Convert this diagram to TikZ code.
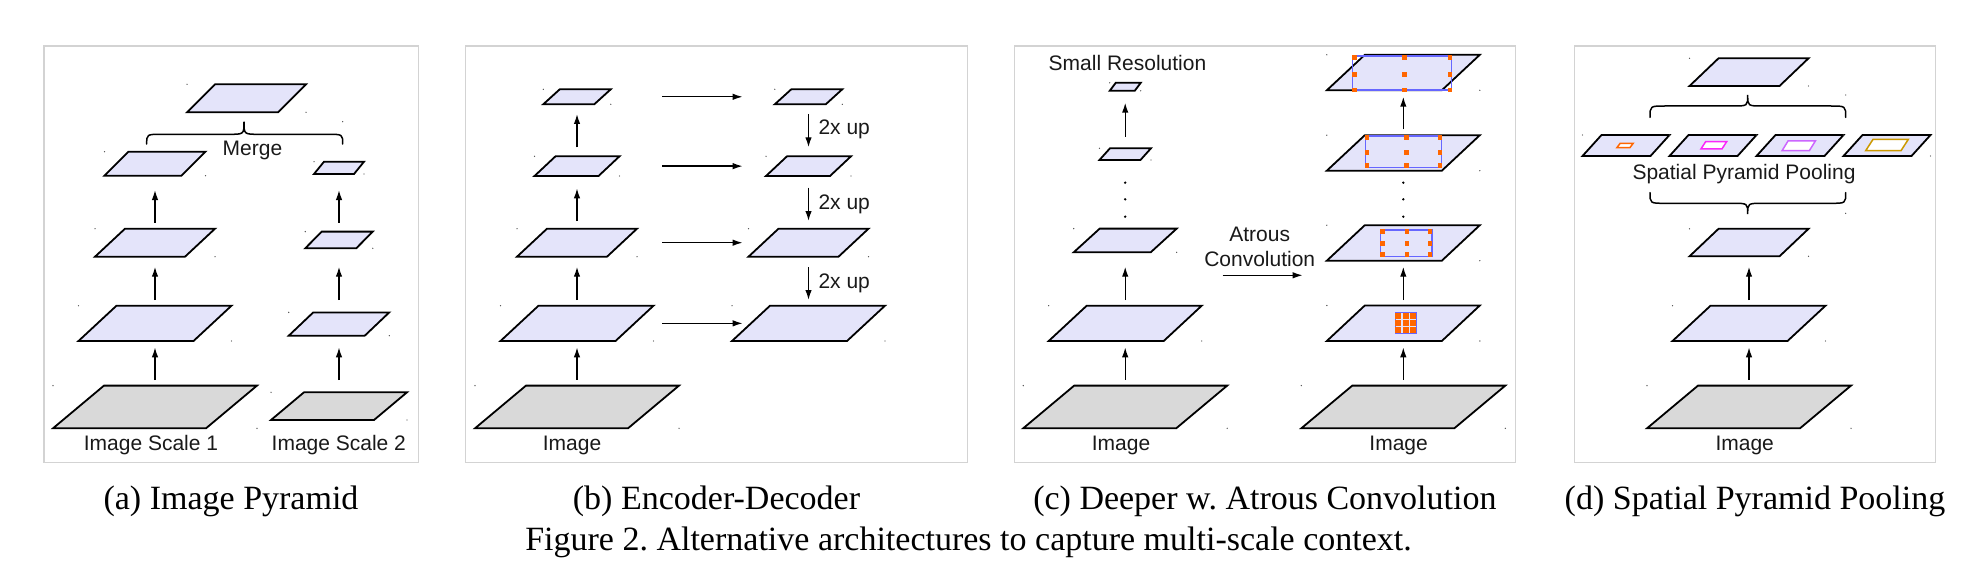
\documentclass[tikz,border=0pt]{standalone}
\usepackage{fontspec}
\setmainfont{Liberation Serif}
\newfontfamily\diagfont{Liberation Sans}
\usetikzlibrary{arrows.meta,calc}
\frenchspacing
\definecolor{lav}{RGB}{228,228,250}
\definecolor{gry}{RGB}{217,217,217}
\definecolor{framegray}{RGB}{211,211,211}
\definecolor{atblue}{RGB}{102,102,255}
\definecolor{atorange}{RGB}{255,102,0}
\definecolor{sppA}{RGB}{255,102,0}
\definecolor{sppB}{RGB}{250,40,250}
\definecolor{sppC}{RGB}{204,102,255}
\definecolor{sppD}{RGB}{204,153,0}
\tikzset{
 planeL/.style={draw=black, line width=1.8pt, fill=lav},
 planeG/.style={draw=black, line width=1.8pt, fill=gry},
 pbox/.style={rectangle, draw=none, inner sep=0pt, outer sep=0pt},
 bbdot/.style={fill=black!70},
 arr/.style={line width=1.4pt, -{Latex[length=10pt,width=6.5pt]}},
 lbl/.style={font=\diagfont\fontsize{21}{24}\selectfont, inner sep=0pt, anchor=base, text=black!90},
 captext/.style={font=\fontsize{34}{40}\selectfont\frenchspacing, inner sep=0pt, anchor=base},
 panelframe/.style={draw=framegray, line width=1.2pt},
 bracel/.style={line width=1.5pt, line cap=round},
 atrect/.style={draw=atblue, line width=1.3pt},
 atsq/.style={fill=atorange},
 innerpl/.style={line width=1.5pt, fill=white},
}
% #1 name, #2 cx, #3 ybot, #4 w, #5 h, #6 skew, #7 style
\newcommand{\myplane}[7]{%
  \path[#7] ({#2-(#4+#6)/2},#3) -- ++(#4,0) -- ++(#6,-#5) -- ++(-#4,0) -- cycle;
  \node[pbox, minimum width={(#4+#6)*1pt}, minimum height={(#5)*1pt}] (#1) at (#2,{#3-(#5)/2}) {};
  \fill[bbdot] (#1.north west) circle (0.7) (#1.south east) circle (0.7);
}
% inner plane: cx, cy, w, h, skew, colour
\newcommand{\inplane}[6]{%
  \path[innerpl, draw=#6] ({#1-(#3+#5)/2},{#2+(#4)/2}) -- ++(#3,0) -- ++(#5,-#4) -- ++(-#3,0) -- cycle;
}
% brace: x1, x2, xtip, yend, yhoriz, ytip, r
\newcommand{\mybrace}[7]{%
  \draw[bracel] (#1,#4) .. controls (#1,#5) .. ({#1+#7},#5) -- ({#3-#7},#5) .. controls (#3,#5) .. (#3,#6)
     .. controls (#3,#5) .. ({#3+#7},#5) -- ({#2-#7},#5) .. controls (#2,#5) .. (#2,#4);
}
\newcommand{\upar}[4]{\draw[arr, shorten <=#3pt, shorten >=#4pt] (#1.north) -- (#2.south);}
\newcommand{\dnar}[4]{\draw[arr, shorten <=#3pt, shorten >=#4pt] (#1.south) -- (#2.north);}
\begin{document}
\begin{tikzpicture}[x=1pt,y=-1pt]
\useasboundingbox (0,0) rectangle (1972,583);
% panel frames
\draw[panelframe] (44,46) rectangle (418.3,462.3);
\draw[panelframe] (465.7,46) rectangle (967.3,462.3);
\draw[panelframe] (1014.5,46) rectangle (1515.2,462.3);
\draw[panelframe] (1574.3,46) rectangle (1935.7,462.3);

% ---------------- (a) Image Pyramid
\myplane{aL0}{155}{428.3}{153}{42.7}{51}{planeG}
\myplane{aL1}{155}{341}{115}{35.3}{38}{planeL}
\myplane{aL2}{155}{256.7}{90}{28}{30}{planeL}
\myplane{aL3}{155}{175.7}{77}{24}{24}{planeL}
\myplane{aM}{246.5}{112.3}{91}{28}{28}{planeL}
\myplane{aR0}{339}{420}{103}{27.7}{33}{planeG}
\myplane{aR1}{339}{335.7}{76}{23.3}{24.5}{planeL}
\myplane{aR2}{339}{248.3}{51}{16.7}{16.5}{planeL}
\myplane{aR3}{339}{174}{40}{12.3}{10}{planeL}
\upar{aL0}{aL1}{5.6}{6.3}
\upar{aL1}{aL2}{5.7}{10}
\upar{aL2}{aL3}{6}{14.3}
\upar{aR0}{aR1}{12.3}{11.6}
\upar{aR1}{aR2}{12.4}{18.4}
\upar{aR2}{aR3}{8.9}{16}
\mybrace{146.7}{342.7}{244}{144}{134.3}{121.7}{15}
\fill[bbdot] (342.7,121.7) circle (0.7);
\node[lbl] (tmerge) at (252.5,155) {Merge};
\node[lbl] (tis1) at (151,450) {Image Scale 1};
\node[lbl] (tis2) at (338.8,450) {Image Scale 2};

% ---------------- (b) Encoder-Decoder
\myplane{bL0}{577}{428.3}{153}{42.7}{51}{planeG}
\myplane{bL1}{577}{341}{115}{35.3}{38}{planeL}
\myplane{bL2}{577}{256.7}{90}{28}{30}{planeL}
\myplane{bL3}{577}{176}{64}{19.7}{21}{planeL}
\myplane{bL4}{577}{104.3}{51}{15}{16.5}{planeL}
\myplane{bR1}{808.5}{341}{115}{35.3}{38}{planeL}
\myplane{bR2}{808.5}{256.7}{90}{28}{30}{planeL}
\myplane{bR3}{808.5}{176}{64}{19.7}{21}{planeL}
\myplane{bR4}{808.5}{104.3}{51}{15}{16.5}{planeL}
\upar{bL0}{bL1}{5.7}{6.3}
\upar{bL1}{bL2}{5.7}{10}
\upar{bL2}{bL3}{7.7}{12.3}
\upar{bL3}{bL4}{9}{9.7}
\dnar{bR4}{bR3}{9.7}{9}
\dnar{bR3}{bR2}{11.7}{7.7}
\dnar{bR2}{bR1}{10.6}{5.7}
\foreach \k in {1,2,3,4}{
  \draw[arr, shorten <=85.3pt, shorten >=65.8pt] (bL\k.center) -- (bR\k.center);
}
\node[lbl, anchor=base west] (tup1) at (818.3,135) {2x up};
\node[lbl, anchor=base west] (tup2) at (818.3,209) {2x up};
\node[lbl, anchor=base west] (tup3) at (818.3,288.3) {2x up};
\node[lbl] (timgb) at (572,450) {Image};

% ---------------- (c) Deeper w. Atrous Convolution
\myplane{cL0}{1125.2}{428.3}{153}{42.7}{51}{planeG}
\myplane{cL1}{1125.2}{341}{115}{35.3}{38}{planeL}
\myplane{cL2}{1125.2}{252.3}{77}{23.7}{26}{planeL}
\myplane{cL3}{1125.2}{160}{41}{11.7}{10.5}{planeL}
\myplane{cL4}{1125.2}{90.8}{25}{8}{6}{planeL}
\upar{cL0}{cL1}{5.7}{6.3}
\upar{cL1}{cL2}{5.7}{14.4}
\upar{cL3}{cL4}{11.6}{11.9}
\foreach \y in {182.7,199.3,216.7}{
  \fill (1125.2,\y) circle (1.3);
  \fill (1403.3,\y) circle (1.3);
}
\node[lbl] (tsmall) at (1127.5,70.7) {Small Resolution};
\myplane{cR0}{1403.3}{428.3}{153}{42.7}{51}{planeG}
\myplane{cR1}{1403.3}{341}{115}{35.5}{38}{planeL}
\myplane{cR2}{1403.3}{260.7}{115}{35.5}{38}{planeL}
\myplane{cR3}{1403.3}{170.7}{115}{35.5}{38}{planeL}
\myplane{cR4}{1403.3}{90.3}{115}{35.5}{38}{planeL}
\upar{cR0}{cR1}{5.7}{6.3}
\upar{cR1}{cR2}{5.5}{6}
\upar{cR3}{cR4}{5.9}{6.4}
\coordinate (hs) at (1222.5,275.3);
\coordinate (he) at (1302.7,275.3);
\draw[arr] (hs) -- (he);
\node[lbl] (tatr1) at (1259.7,241.7) {Atrous};
\node[lbl] (tatr2) at (1259.7,266) {Convolution};
% atrous kernels
\draw[atrect] (1352.7,56) rectangle (1451.7,90);
\foreach \x in {1354.4,1404.4,1450.1} \foreach \y in {57.3,74.3,90}
  \fill[atsq] ({\x-2.25},{\y-2.25}) rectangle ++(4.5,4.5);
\draw[atrect] (1365.8,136) rectangle (1441.5,167.7);
\foreach \x in {1367.1,1406.4,1440.1} \foreach \y in {137.3,152.3,165.7}
  \fill[atsq] ({\x-2.25},{\y-2.25}) rectangle ++(4.5,4.5);
\draw[atrect] (1380.3,230) rectangle (1431.9,256.7);
\foreach \x in {1382.3,1407,1430} \foreach \y in {231.7,243.3,254.3}
  \fill[atsq] ({\x-2.25},{\y-2.25}) rectangle ++(4.5,4.5);
\draw[atrect, line width=0.8pt] (1395,312.7) rectangle (1416,333.3);
\foreach \x in {1398.2,1405.5,1412.8} \foreach \y in {316,323,330}
  \fill[atsq] ({\x-3},{\y-3}) rectangle ++(6,6);
\node[lbl] (timgc1) at (1121,450) {Image};
\node[lbl] (timgc2) at (1398.6,450) {Image};

% ---------------- (d) Spatial Pyramid Pooling
\myplane{dP0}{1749}{428.3}{153}{42.7}{51}{planeG}
\myplane{dP1}{1749}{341}{115}{35.3}{38}{planeL}
\myplane{dP2}{1749}{256.3}{90}{27.5}{29}{planeL}
\myplane{dTop}{1749}{86}{90}{27.7}{29}{planeL}
\myplane{dS1}{1626}{156}{68}{21}{19}{planeL}
\myplane{dS2}{1713}{156}{68}{21}{19}{planeL}
\myplane{dS3}{1800}{156}{68}{21}{19}{planeL}
\myplane{dS4}{1887}{156}{68}{21}{19}{planeL}
\inplane{1625}{145.5}{13}{4.4}{3.3}{sppA}
\inplane{1713.8}{145.3}{21}{7.3}{4.7}{sppB}
\inplane{1798.7}{145.8}{27.3}{9.7}{6}{sppC}
\inplane{1887}{145}{35.3}{11.3}{7.3}{sppD}
\upar{dP0}{dP1}{5.7}{6.3}
\upar{dP1}{dP2}{5.7}{10.4}
\mybrace{1650}{1845.7}{1747.7}{117.3}{106}{95}{15}
\mybrace{1650}{1845.7}{1747.7}{192.7}{203.3}{214}{15}
\fill[bbdot] (1845.7,95) circle (0.7) (1845.7,213.3) circle (0.7);
\node[lbl] (tspp) at (1744,179.3) {Spatial Pyramid Pooling};
\node[lbl] (timgd) at (1744.7,450) {Image};

% ---------------- captions
\node[captext] (capa) at (231,509.3) {(a) Image Pyramid};
\node[captext] (capb) at (716.5,509.3) {(b) Encoder-Decoder};
\node[captext] (capc) at (1264.9,509.3) {(c) Deeper w. Atrous Convolution};
\node[captext] (capd) at (1755,509.3) {(d) Spatial Pyramid Pooling};
\node[captext] (capfig) at (968.5,550) {Figure 2. Alternative architectures to capture multi-scale context.};
\end{tikzpicture}
\end{document}
